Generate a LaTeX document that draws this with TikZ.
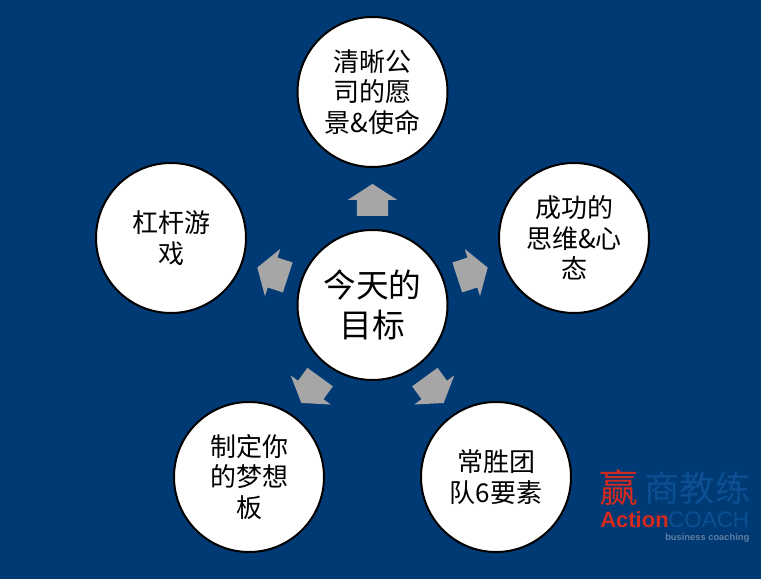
\documentclass[tikz,border=0pt]{standalone}
\usepackage{fontspec}
\usepackage{tikz}
\usetikzlibrary{shapes,arrows,positioning,calc}
\newfontfamily\cjk{Noto Sans CJK SC}
\setmainfont{Liberation Sans}
\definecolor{PageBlue}{HTML}{003A75}
\definecolor{ArrowGray}{HTML}{A6A6A6}
\definecolor{LogoRed}{HTML}{D42A1E}
\definecolor{LogoBlue}{HTML}{0C4F92}
\definecolor{LogoGray}{HTML}{5F7E9F}

\begin{document}
\begin{tikzpicture}[x=0.75pt, y=0.75pt]
		\tikzstyle{Goal} 	= [circle, draw=black, line width=1.5pt, fill=white, minimum size=112.5pt, inner sep=0pt, align=center, text=black]
		\tikzstyle{Small}	= [font=\cjk\fontsize{19.5}{22.9}\selectfont]
		\tikzstyle{Big}		= [font=\cjk\fontsize{24.5}{30}\selectfont]
		\tikzstyle{Pointer}	= [single arrow, fill=ArrowGray, inner xsep=0pt, inner ysep=11.6pt, outer sep=0pt, minimum height=24pt, single arrow head extend=6.75pt, single arrow tip angle=114, single arrow head indent=0pt]
		\tikzstyle{Logo}	= [inner sep=0pt, anchor=base west]

		\fill [PageBlue] (0, 0) rectangle (761, 579);
		\useasboundingbox (0, 0) rectangle (761, 579);

		\node (today) at (372.5, 274) [Goal][Big] {今天的\\目标};
		\node (vision) at (372.5, 487) [Goal][Small] {清晰公\\司的愿\\景\&使命};
		\node (mindset) at (574, 341) [Goal][Small] {成功的\\思维\&心\\态};
		\node (team) at (496, 102) [Goal][Small] {常胜团\\队6要素};
		\node (board) at (249, 102) [Goal][Small] {制定你\\的梦想\\板};
		\node (game) at (171, 341) [Goal][Small] {杠杆游\\戏};

		\foreach \ang/\name in {90/vision, 18/mindset, -54/team, -126/board, 162/game}
			\node (to\name) at ($(today)+(\ang:100)$) [Pointer, rotate=\ang] {};

		\node (logomark) at (619, 91) [font=\cjk\fontsize{29}{29}\selectfont, text=LogoRed, inner sep=0pt] {赢};
		\node (logocn) at (697.5, 91) [font=\cjk\fontsize{26.5}{27}\selectfont, text=LogoBlue, inner sep=0pt] {商教练};
		\node (action) at (600, 52) [Logo, font=\bfseries\fontsize{16.5}{16.5}\selectfont, text=LogoRed] {Action};
		\node (coach) at (668, 52) [Logo, font=\fontsize{16.8}{17}\selectfont, text=LogoBlue] {COACH};
		\node (tagline) at (665, 39) [Logo, font=\bfseries\fontsize{7}{8}\selectfont, text=LogoGray] {business coaching};
	\end{tikzpicture}
\end{document}
